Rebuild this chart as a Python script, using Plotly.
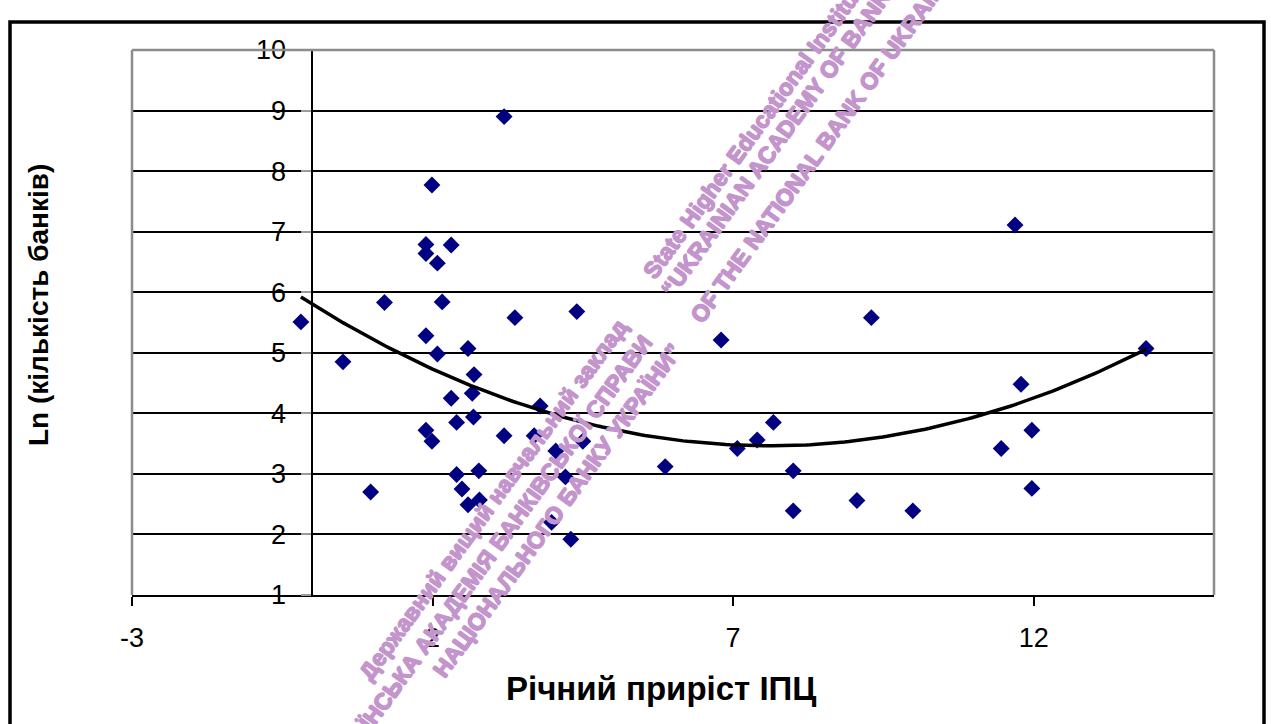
import numpy as np
import plotly.graph_objects as go

# Річний приріст ІПЦ (x) та ln кількості банків (y) по країнах
cpi_growth = [
    -0.19, 0.51, 0.97, 1.20, 1.89, 1.89, 1.99, 2.31, 2.08, 3.19,
    2.16, 3.37, 4.40, 1.89, 2.08, 2.59, 2.69, 2.31, 2.66, 3.79,
    2.40, 2.68, 1.89, 1.99, 3.19, 3.69, 4.05, 4.50, 2.40, 2.77,
    4.21, 2.49, 2.59, 2.78, 3.98, 4.30,
    6.80, 9.30, 5.87, 7.07, 7.40, 7.67, 8.00, 8.00, 9.06, 9.99,
    11.69, 13.87, 11.79, 11.97, 11.46, 11.97,
]
ln_banks = [
    5.51, 4.85, 2.70, 5.83, 6.79, 6.64, 7.77, 6.78, 6.48, 8.90,
    5.84, 5.58, 5.68, 5.28, 4.98, 5.07, 4.64, 4.25, 4.33, 4.12,
    3.85, 3.94, 3.72, 3.54, 3.63, 3.63, 3.38, 3.54, 2.99, 3.05,
    2.95, 2.75, 2.49, 2.57, 2.20, 1.92,
    5.21, 5.58, 3.12, 3.42, 3.56, 3.85, 3.05, 2.39, 2.56, 2.39,
    7.11, 5.07, 4.48, 3.72, 3.42, 2.76,
]

x_ticks = [-3, 2, 7, 12]
y_ticks = list(range(1, 11))
x_range = [-3, 15]
y_range = [1, 10]

W, H = 1271, 724
M_L, M_R, M_T, M_B = 132, 57, 50, 129
PW = W - M_L - M_R
PH = H - M_T - M_B


def px(xp, yp):
    """Pixel position on the page -> paper coordinates."""
    return (xp - M_L) / PW, (H - M_B - yp) / PH


# Поліноміальний тренд 2-го ступеня
coef = np.polyfit(cpi_growth, ln_banks, 2)
xs = np.linspace(min(cpi_growth), max(cpi_growth), 200)
ys = np.polyval(coef, xs)

fig = go.Figure()
fig.add_trace(go.Scatter(
    x=cpi_growth, y=ln_banks, mode="markers",
    marker=dict(symbol="diamond", size=13, color="#000080", line=dict(width=0)),
    showlegend=False, hoverinfo="x+y",
))
fig.add_trace(go.Scatter(
    x=xs, y=ys, mode="lines",
    line=dict(color="black", width=3.5),
    showlegend=False, hoverinfo="skip",
))

tick_font = dict(family="Liberation Sans, Arial, sans-serif", size=27, color="black")

fig.update_layout(
    width=W, height=H,
    margin=dict(l=M_L, r=M_R, t=M_T, b=M_B, pad=0),
    paper_bgcolor="white", plot_bgcolor="white",
    font=dict(family="Liberation Sans, Arial, sans-serif", color="black"),
    xaxis=dict(
        range=x_range, tickvals=x_ticks, ticktext=[str(v) for v in x_ticks],
        showgrid=False, zeroline=False,
        showline=True, linecolor="black", linewidth=2,
        ticks="outside", ticklen=9, tickwidth=1.5, tickcolor="black",
        tickfont=tick_font, ticklabelstandoff=9,
    ),
    yaxis=dict(
        range=y_range, tickvals=y_ticks, ticktext=[str(v) for v in y_ticks],
        anchor="free", position=(0 - x_range[0]) / (x_range[1] - x_range[0]),
        showgrid=True, gridcolor="black", gridwidth=1.6,
        zeroline=False,
        showline=True, linecolor="black", linewidth=2,
        ticks="outside", ticklen=10, tickwidth=1.5, tickcolor="#9a9a9a",
        tickfont=tick_font, ticklabelstandoff=10,
    ),
)

# Рамка області побудови (сіра) та зовнішня рамка діаграми
grey = "#8c8c8c"
for x0, y0, x1, y1 in [(0, 1, 1, 1), (0, 0, 0, 1), (1, 0, 1, 1)]:
    fig.add_shape(type="line", xref="paper", yref="paper",
                  x0=x0, y0=y0, x1=x1, y1=y1,
                  line=dict(color=grey, width=2.5), layer="above")
bx0, by1 = px(10, 22)
bx1, by0 = px(1264, 740)
fig.add_shape(type="rect", xref="paper", yref="paper",
              x0=bx0, y0=by0, x1=bx1, y1=by1,
              line=dict(color="black", width=3.5), layer="above")

# Назви осей
ax, ay = px(38, 305)
fig.add_annotation(xref="paper", yref="paper", x=ax, y=ay, showarrow=False,
                   text="<b>Ln (кількість банків)</b>", textangle=-90,
                   font=dict(family="Liberation Sans, Arial, sans-serif", size=28, color="black"),
                   xanchor="center", yanchor="middle")
ax, ay = px(661, 688)
fig.add_annotation(xref="paper", yref="paper", x=ax, y=ay, showarrow=False,
                   text="<b>Річний приріст ІПЦ</b>",
                   font=dict(family="Liberation Sans, Arial, sans-serif", size=33, color="black"),
                   xanchor="center", yanchor="middle")

# Водяний знак установи (потовщений контуром-тінню)
wm_color = "rgb(196,148,204)"
wm_font = dict(
    family="Liberation Sans, Arial, sans-serif", size=23, color=wm_color,
    shadow=(f"0.8px 0 0 {wm_color}, -0.8px 0 0 {wm_color}, "
            f"0 0.8px 0 {wm_color}, 0 -0.8px 0 {wm_color}"),
)
wm_lines = [
    ("Державний вищий навчальний заклад", 493, 500),
    ("«УКРАЇНСЬКА АКАДЕМІЯ БАНКІВСЬКОЇ СПРАВИ", 485, 561),
    ("НАЦІОНАЛЬНОГО БАНКУ УКРАЇНИ”", 557, 511),
    ("State Higher Educational Institution", 763, 118),
    ("“UKRAINIAN ACADEMY OF BANKING", 788, 126),
    ("OF THE NATIONAL BANK OF UKRAINE”", 825, 142),
]
for txt, cx, cy in wm_lines:
    ax, ay = px(cx, cy)
    fig.add_annotation(xref="paper", yref="paper", x=ax, y=ay, showarrow=False,
                       text=f"<b>{txt}</b>", textangle=-54, font=wm_font,
                       xanchor="center", yanchor="middle")

fig.write_html("out.html")
